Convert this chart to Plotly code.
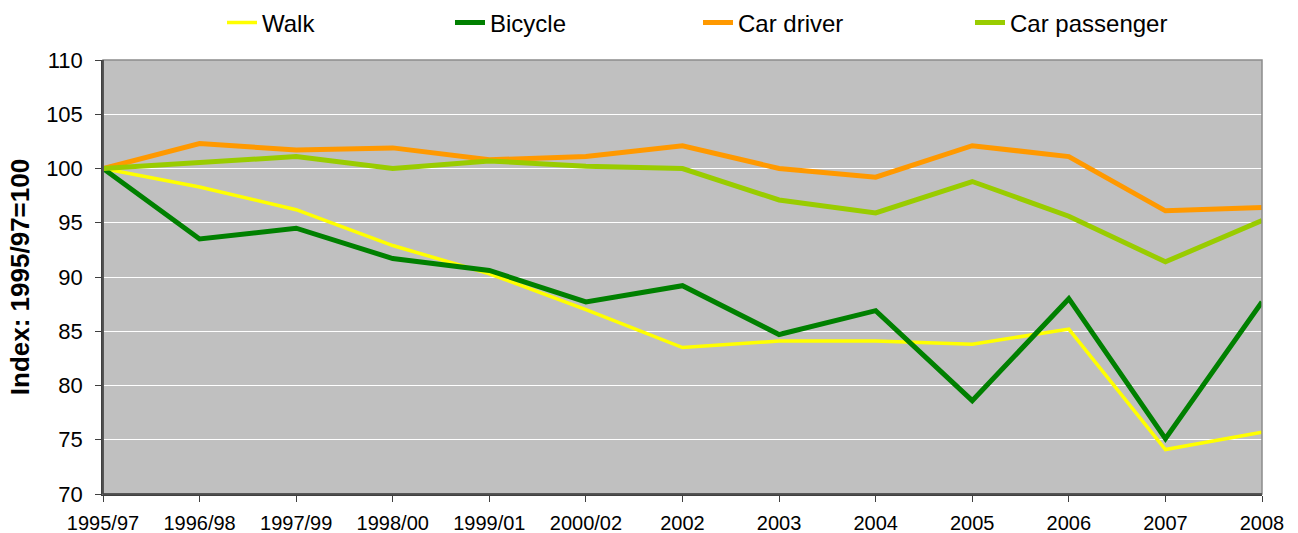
import plotly.graph_objects as go

categories = ["1995/97", "1996/98", "1997/99", "1998/00", "1999/01", "2000/02",
              "2002", "2003", "2004", "2005", "2006", "2007", "2008"]

walk = [100, 98.3, 96.2, 92.9, 90.3, 87.0, 83.5, 84.1, 84.1, 83.8, 85.2, 74.1, 75.7]
bicycle = [100, 93.5, 94.5, 91.7, 90.6, 87.7, 89.2, 84.7, 86.9, 78.6, 88.0, 75.1, 87.7]
car_driver = [100, 102.3, 101.7, 101.9, 100.8, 101.1, 102.1, 100.0, 99.2, 102.1, 101.1, 96.1, 96.4]
car_passenger = [100, 100.5, 101.1, 100.0, 100.7, 100.2, 100.0, 97.1, 95.9, 98.8, 95.6, 91.4, 95.2]

series_names = ["Walk", "Bicycle", "Car driver", "Car passenger"]
series_values = [walk, bicycle, car_driver, car_passenger]
series_colors = ["#FFFF00", "#008000", "#FF9900", "#99CC00"]
series_widths = [3.5, 5, 5, 5]
legend_ids = ["legend", "legend2", "legend3", "legend4"]
legend_x = [222, 450, 698, 970]  # container px, left edge of each legend entry

FONT = "Arial, Liberation Sans, sans-serif"
W, H = 1298, 533

fig = go.Figure()
for name, vals, col, wd, lid in zip(series_names, series_values, series_colors, series_widths, legend_ids):
    fig.add_trace(go.Scatter(
        x=categories, y=vals, mode="lines", name=name,
        line=dict(color=col, width=wd),
        legend=lid,
    ))

legend_common = dict(
    orientation="h", xref="container", yref="container", yanchor="middle",
    xanchor="left", bgcolor="rgba(0,0,0,0)", borderwidth=0,
    font=dict(family=FONT, size=24, color="#000000"),
)
for lid, lx in zip(legend_ids, legend_x):
    fig.update_layout(**{lid: dict(legend_common, x=lx / W, y=1 - 23 / H)})

fig.update_layout(
    width=W, height=H,
    margin=dict(l=103, r=36, t=60, b=39, autoexpand=False),
    paper_bgcolor="#FFFFFF",
    plot_bgcolor="#C0C0C0",
    showlegend=True,
    font=dict(family=FONT, color="#000000"),
)

fig.update_xaxes(
    type="category", range=[0, len(categories) - 1],
    automargin=False,
    showgrid=False, zeroline=False,
    showline=True, linecolor="#404040", linewidth=1.5,
    ticks="outside", ticklen=6, tickcolor="#404040", tickwidth=1,
    tickfont=dict(family=FONT, size=20, color="#000000"),
    ticklabelstandoff=4,
)
fig.update_yaxes(
    range=[70, 110], dtick=5, tick0=70,
    automargin=False,
    showgrid=True, gridcolor="#FFFFFF", gridwidth=1,
    zeroline=False,
    showline=True, linecolor="#404040", linewidth=1.5,
    ticks="outside", ticklen=6, tickcolor="#404040", tickwidth=1,
    tickfont=dict(family=FONT, size=22, color="#000000"),
    ticklabelstandoff=8,
    title=dict(text="<b>Index: 1995/97=100</b>", font=dict(family=FONT, size=26, color="#000000"),
               standoff=9),
)

# plot-area border (top and right edges appear gray)
fig.add_shape(type="rect", xref="paper", yref="paper", x0=0, x1=1, y0=0, y1=1,
              line=dict(color="#8C8C8C", width=1.5), fillcolor="rgba(0,0,0,0)", layer="above")
fig.add_shape(type="line", xref="paper", yref="paper", x0=0, x1=0, y0=0, y1=1,
              line=dict(color="#404040", width=1.5), layer="above")
fig.add_shape(type="line", xref="paper", yref="paper", x0=0, x1=1, y0=0, y1=0,
              line=dict(color="#404040", width=1.5), layer="above")

fig.write_html(
    "out.html",
    config={"displayModeBar": False},
    post_script="document.body.style.margin='0';document.body.style.overflow='hidden';",
)
